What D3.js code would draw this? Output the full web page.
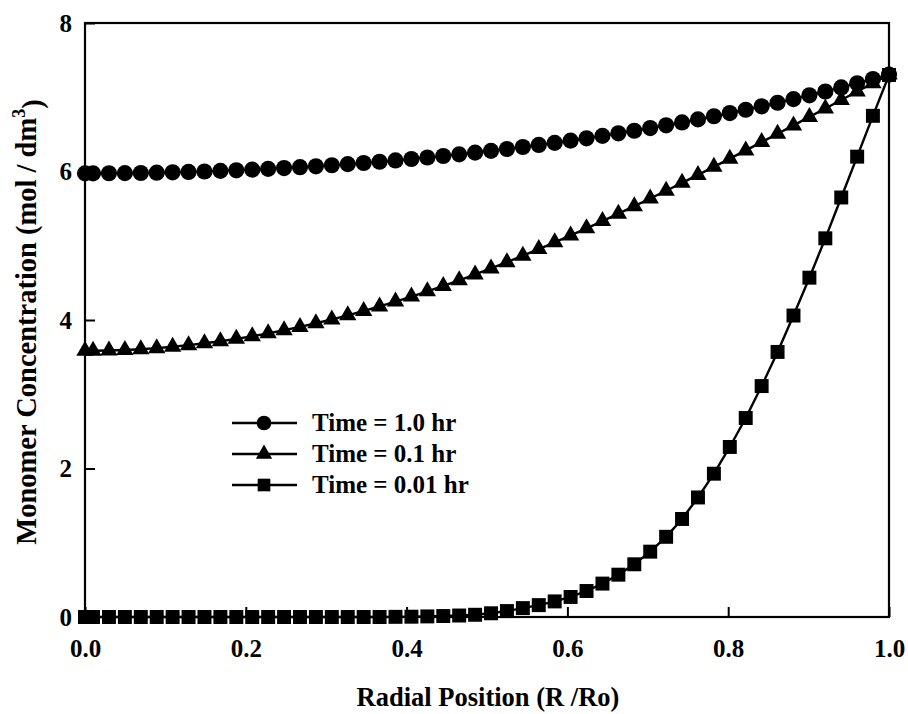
<!DOCTYPE html>
<html>
<head>
<meta charset="utf-8">
<script src="https://cdn.jsdelivr.net/npm/d3@7"></script>
<style>
  html, body { margin: 0; padding: 0; background: #fff; }
  svg { display: block; }
  text { font-family: "Liberation Serif", "Times New Roman", serif; font-weight: bold; fill: #000; }
</style>
</head>
<body>
<svg id="chart" width="908" height="714"></svg>
<script>
// ---- data ----
const radialPos = [0, 0.01, 0.0298, 0.0496, 0.0694, 0.0892, 0.109, 0.1288, 0.1486, 0.1684,
  0.1882, 0.208, 0.2278, 0.2476, 0.2674, 0.2872, 0.307, 0.3268, 0.3466, 0.3664,
  0.3862, 0.406, 0.4258, 0.4456, 0.4654, 0.4852, 0.505, 0.5248, 0.5446, 0.5644,
  0.5842, 0.604, 0.6238, 0.6436, 0.6634, 0.6832, 0.703, 0.7228, 0.7426, 0.7624,
  0.7822, 0.802, 0.8218, 0.8416, 0.8614, 0.8812, 0.901, 0.9208, 0.9406, 0.9604,
  0.98, 1.0];

const conc_1_0hr = [5.975, 5.975, 5.976, 5.978, 5.980, 5.984, 5.989, 5.994, 6.000, 6.008,
  6.016, 6.025, 6.035, 6.046, 6.058, 6.070, 6.084, 6.099, 6.115, 6.131,
  6.149, 6.168, 6.188, 6.209, 6.231, 6.254, 6.278, 6.303, 6.330, 6.358,
  6.386, 6.416, 6.447, 6.480, 6.514, 6.549, 6.585, 6.622, 6.661, 6.702,
  6.744, 6.787, 6.832, 6.878, 6.926, 6.975, 7.026, 7.078, 7.132, 7.188,
  7.245, 7.305];

const conc_0_1hr = [3.585, 3.585, 3.589, 3.596, 3.607, 3.621, 3.639, 3.661, 3.686, 3.714,
  3.746, 3.781, 3.820, 3.862, 3.907, 3.956, 4.008, 4.063, 4.121, 4.183,
  4.248, 4.315, 4.386, 4.459, 4.535, 4.614, 4.695, 4.779, 4.866, 4.955,
  5.046, 5.139, 5.235, 5.332, 5.432, 5.533, 5.636, 5.741, 5.847, 5.954,
  6.063, 6.173, 6.284, 6.396, 6.508, 6.621, 6.735, 6.849, 6.963, 7.077,
  7.190, 7.305];

const conc_0_01hr = [0, 0, 0, 0, 0, 0, 0, 0, 0, 0,
  0, 0, 0, 0, 0, 0, 0, 0, 0, 0,
  0.002, 0.004, 0.008, 0.013, 0.02, 0.03, 0.05, 0.08, 0.12, 0.16,
  0.21, 0.27, 0.35, 0.45, 0.57, 0.71, 0.88, 1.08, 1.32, 1.61,
  1.93, 2.29, 2.68, 3.11, 3.57, 4.06, 4.57, 5.10, 5.65, 6.20,
  6.75, 7.30];

const seriesNames = ["Time = 1.0 hr", "Time = 0.1 hr", "Time = 0.01 hr"];
const seriesSymbols = ["circle", "triangle", "square"];
const xTicks = [0, 0.2, 0.4, 0.6, 0.8, 1.0];
const yTicks = [0, 2, 4, 6, 8];
const xTitle = "Radial Position (R /Ro)";
const yTitle = "Monomer Concentration (mol / dm";

// ---- layout ----
const svg = d3.select("#chart");
const plot = { left: 85, right: 889, top: 23, bottom: 617 };
const x = d3.scaleLinear().domain([0, 1]).range([plot.left, plot.right]);
const y = d3.scaleLinear().domain([0, 8]).range([plot.bottom, plot.top]);

// axes
const xAxis = d3.axisBottom(x).tickValues(xTicks).tickFormat(d3.format(".1f"))
  .tickSizeInner(-10).tickSizeOuter(0).tickPadding(22);
const yAxis = d3.axisLeft(y).tickValues(yTicks).tickFormat(d3.format("d"))
  .tickSizeInner(-10).tickSizeOuter(0).tickPadding(13);

const gx = svg.append("g").attr("transform", `translate(0,${plot.bottom})`).call(xAxis);
const gy = svg.append("g").attr("transform", `translate(${plot.left},0)`).call(yAxis);
[gx, gy].forEach(g => {
  g.select(".domain").remove();
  g.selectAll(".tick line").attr("stroke", "#000").attr("stroke-width", 2);
  g.selectAll(".tick text").style("font-size", "25px")
    .style("font-family", "'Liberation Serif', serif").style("font-weight", "bold");
});

// frame
svg.append("rect")
  .attr("x", plot.left).attr("y", plot.top)
  .attr("width", plot.right - plot.left).attr("height", plot.bottom - plot.top)
  .attr("fill", "none").attr("stroke", "#000").attr("stroke-width", 2.2);

// axis titles
svg.append("text")
  .attr("x", (plot.left + plot.right) / 2 + 1).attr("y", 706)
  .attr("text-anchor", "middle").style("font-size", "26.5px")
  .text(xTitle);

const yt = svg.append("text")
  .attr("transform", "translate(36,322) rotate(-90)")
  .attr("text-anchor", "middle").style("font-size", "28.5px");
yt.append("tspan").text(yTitle);
yt.append("tspan").attr("dy", "-0.6em").style("font-size", "18px").text("3");
yt.append("tspan").attr("dy", "0.6em").text(")");

// series
const symMap = { circle: d3.symbolCircle, triangle: d3.symbolTriangle, square: d3.symbolSquare };
const symSize = { circle: 205, triangle: 130, square: 195 };
const seriesValues = [conc_1_0hr, conc_0_1hr, conc_0_01hr];
const line = d3.line().x(d => x(d[0])).y(d => y(d[1]));

seriesValues.forEach((vals, si) => {
  const pts = radialPos.map((r, i) => [r, vals[i]]);
  const g = svg.append("g");
  g.append("path").datum(pts).attr("d", line)
    .attr("fill", "none").attr("stroke", "#000").attr("stroke-width", 2.4);
  const sym = d3.symbol().type(symMap[seriesSymbols[si]]).size(symSize[seriesSymbols[si]]);
  g.selectAll("path.m").data(pts).enter().append("path").attr("class", "m")
    .attr("d", sym)
    .attr("transform", d => `translate(${x(d[0])},${y(d[1])})`)
    .attr("fill", "#000");
});

// legend
const legend = svg.append("g");
const legY = [423, 454, 485];
seriesNames.forEach((name, i) => {
  legend.append("line").attr("x1", 232).attr("x2", 297)
    .attr("y1", legY[i]).attr("y2", legY[i])
    .attr("stroke", "#000").attr("stroke-width", 2.6);
  const sz = { circle: 170, triangle: 115, square: 160 }[seriesSymbols[i]];
  legend.append("path")
    .attr("d", d3.symbol().type(symMap[seriesSymbols[i]]).size(sz))
    .attr("transform", `translate(264,${legY[i]})`).attr("fill", "#000");
  legend.append("text").attr("x", 312).attr("y", legY[i] + 8)
    .style("font-size", "25px").text(name);
});
</script>
</body>
</html>
